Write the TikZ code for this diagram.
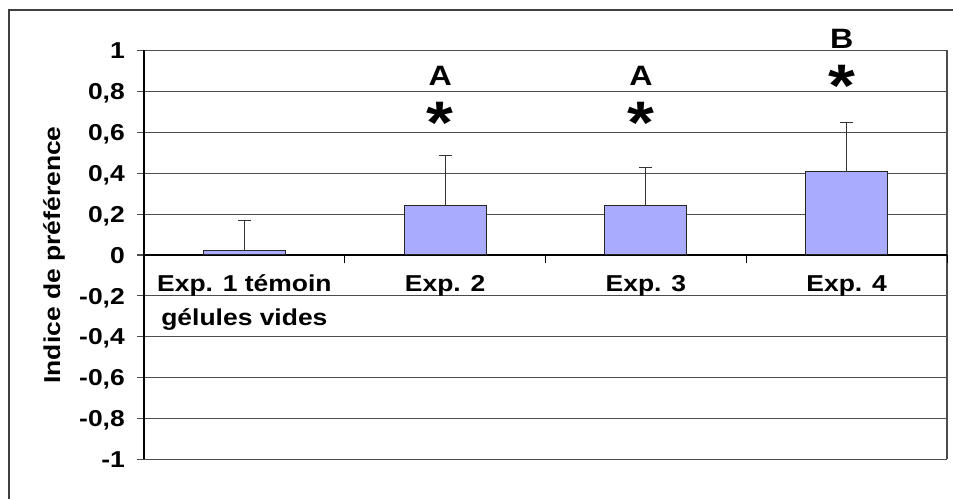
\documentclass[tikz,border=0pt]{standalone}
\usepackage{fontspec}
\setmainfont[FakeStretch=1.15]{Liberation Sans}
\usetikzlibrary{positioning}
\definecolor{barblue}{RGB}{169,171,255}
\tikzset{grid line/.style={draw=black!70,line width=1.1pt},}
\tikzset{bar box/.style={draw=black!85,fill=barblue,line width=1pt},}
\tikzset{err line/.style={draw=black!80,line width=1pt},}
\tikzset{tick label/.style={font=\fontsize{23}{27}\selectfont\bfseries,inner sep=0pt,anchor=base east},}
\tikzset{cat label/.style={font=\fontsize{23}{27}\selectfont\bfseries,inner sep=0pt,anchor=base},}
\tikzset{axis label/.style={font=\fontsize{23}{27}\selectfont\bfseries,inner sep=0pt},}
\tikzset{sig label/.style={font=\fontsize{28}{32}\selectfont\bfseries,inner sep=0pt},}
\tikzset{star label/.style={font=\fontsize{60}{64}\selectfont\bfseries,inner sep=0pt,anchor=north},}

\begin{document}
\begin{tikzpicture}[x=1pt,y=1pt]
  \useasboundingbox (0,0) rectangle (953,498);
  % outer frame
  \draw[black!75,line width=1.2pt] (9,-5) -- (9,488) -- (960,488);

  \begin{scope}[shift={(144pt,243pt)},x=200.75pt,y=204.5pt]
    % grid
    \foreach \v in {-1,-0.8,...,1}
      \draw[grid line] (0,\v) -- (4,\v) (0,\v) -- ++(-7pt,0);
    \draw[grid line] (4,-1) -- (4,1);
    \draw[black,line width=1.1pt] (0,-1) -- (0,1);
    \draw[black,line width=1.2pt] (0,0) -- (4,0);
    \foreach \c in {1,2,3,4}
      \draw[black,line width=1pt] (\c,0) -- ++(0,-8pt);

    % bars and error bars
    \foreach \c/\m/\e in {0.5/0.02/0.17,1.5/0.241/0.486,2.5/0.241/0.427,3.5/0.406/0.649}{
      \draw[bar box] (\c-0.204,0) rectangle (\c+0.204,\m);
      \draw[err line] (\c,\m) -- (\c,\e) ++(-6.5pt,0) -- ++(13pt,0);
    }

    % y tick labels
    \foreach \v/\t [count=\i] in {1/1,0.8/{0,8},0.6/{0,6},0.4/{0,4},0.2/{0,2},0/0,
        -0.2/{-0,2},-0.4/{-0,4},-0.6/{-0,6},-0.8/{-0,8},-1/-1}
      \node[tick label] (tick\i) at ([xshift=-19pt,yshift=-8.2pt]0,\v) {\t};

    % categories
    \node[cat label] (cat1) at ([yshift=-37pt]0.5,0) {Exp. 1 témoin};
    \node[cat label,anchor=north] (cat1b) [below=11pt of cat1] {gélules vides};
    \node[cat label] (cat2) at ([yshift=-37pt]1.5,0) {Exp. 2};
    \node[cat label] (cat3) at ([yshift=-37pt]2.5,0) {Exp. 3};
    \node[cat label] (cat4) at ([yshift=-37pt]3.5,0) {Exp. 4};

    % significance marks
    \node[star label] (star2) at ([xshift=-5pt]1.5,0.748) {*};
    \node[star label] (star3) at ([xshift=-5pt]2.5,0.748) {*};
    \node[star label] (star4) at ([xshift=-5pt]3.5,0.929) {*};
    \node[sig label] (sig2) [above=16pt of star2] {A};
    \node[sig label] (sig3) [above=16pt of star3] {A};
    \node[sig label] (sig4) [above=16pt of star4] {B};
  \end{scope}

  \node[axis label,rotate=90,anchor=base] (ylab) at (60,243) {Indice de préférence};
\end{tikzpicture}
\end{document}
